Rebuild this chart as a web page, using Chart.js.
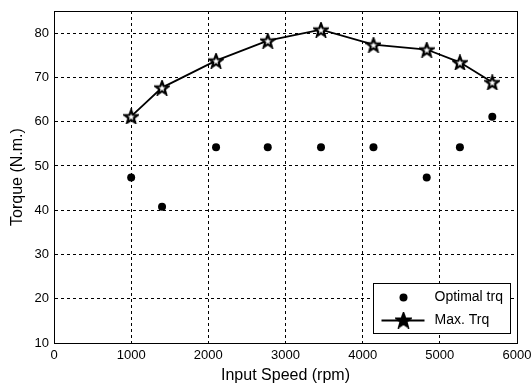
<!DOCTYPE html>
<html>
<head>
<meta charset="UTF-8">
<title>Torque vs Input Speed</title>
<script src="https://cdn.jsdelivr.net/npm/chart.js"></script>
<style>
  html, body { margin: 0; padding: 0; background: #fff; }
  #box { width: 532px; height: 385px; }
</style>
</head>
<body>
<div id="box"><canvas id="grafico"></canvas></div>
<script>
// dados
const velocidade = [1000, 1400, 2100, 2770, 3460, 4140, 4830, 5260, 5680];
const torqueOtimo = [47.4, 40.8, 54.2, 54.2, 54.2, 54.2, 47.4, 54.2, 61.1];
const torqueMax = [61.2, 67.7, 73.8, 78.3, 80.8, 77.4, 76.3, 73.4, 68.9];
const yTicks = [10, 20, 30, 40, 50, 60, 70, 80];
const xTicks = [0, 1000, 2000, 3000, 4000, 5000, 6000];

const fonte = 'Arial, "Liberation Sans", sans-serif';

// estrela de 5 pontas (pentagrama) como pointStyle
function fazEstrela(tam, preenche) {
  const c = document.createElement('canvas');
  c.width = tam; c.height = tam;
  const g = c.getContext('2d');
  const cx = tam / 2, cy = tam / 2 + 0.8;
  const rOut = tam / 2 - 1.2, rIn = rOut * 0.42;
  g.beginPath();
  for (let i = 0; i < 10; i++) {
    const r = i % 2 === 0 ? rOut : rIn;
    const a = -Math.PI / 2 + i * Math.PI / 5;
    const px = cx + r * Math.cos(a), py = cy + r * Math.sin(a);
    if (i === 0) g.moveTo(px, py); else g.lineTo(px, py);
  }
  g.closePath();
  g.lineJoin = 'miter';
  g.lineWidth = 2.2;
  g.strokeStyle = '#000';
  if (preenche) { g.fillStyle = '#000'; g.fill(); }
  else { g.fillStyle = '#fff'; g.fill(); }
  g.stroke();
  return c;
}
const estrela = fazEstrela(16, false);
const estrelaLegenda = fazEstrela(17, true);

const pts = (xs, ys) => xs.map((x, i) => ({ x: x, y: ys[i] }));

// moldura completa + legenda estilo matlab
const molduraPlugin = {
  id: 'moldura',
  afterDraw(chart) {
    const ctx = chart.ctx;
    const a = chart.chartArea;
    ctx.save();
    ctx.strokeStyle = '#000';
    ctx.lineWidth = 1;
    ctx.strokeRect(Math.round(a.left) + 0.5, Math.round(a.top) + 0.5,
      Math.round(a.right - a.left), Math.round(a.bottom - a.top));

    // legenda
    const w = 137, h = 50;
    const lx = Math.round(a.right - 7 - w) + 0.5;
    const ly = Math.round(a.bottom - 10 - h) + 0.5;
    ctx.fillStyle = '#fff';
    ctx.fillRect(lx, ly, w, h);
    ctx.strokeRect(lx, ly, w, h);

    const ds = chart.data.datasets;
    ctx.font = '14px ' + fonte;
    ctx.fillStyle = '#000';
    ctx.textBaseline = 'middle';
    ctx.textAlign = 'left';
    const y1 = ly + 14, y2 = ly + 37;
    // linha 1: pontos
    ctx.beginPath();
    ctx.arc(lx + 30, y1, 4, 0, Math.PI * 2);
    ctx.fill();
    ctx.fillText(ds[0].label, lx + 61, y1);
    // linha 2: linha + estrela
    ctx.beginPath();
    ctx.lineWidth = 1.8;
    ctx.moveTo(lx + 8, y2);
    ctx.lineTo(lx + 51, y2);
    ctx.stroke();
    ctx.drawImage(estrelaLegenda, lx + 30 - 8.5, y2 - 9);
    ctx.fillText(ds[1].label, lx + 61, y2);
    ctx.restore();
  }
};

const ctx = document.getElementById('grafico').getContext('2d');
new Chart(ctx, {
  type: 'scatter',
  data: {
    datasets: [
      {
        label: 'Optimal trq',
        data: pts(velocidade, torqueOtimo),
        pointStyle: 'circle',
        pointRadius: 4,
        backgroundColor: '#000',
        borderColor: '#000',
        borderWidth: 0,
        showLine: false
      },
      {
        label: 'Max. Trq',
        data: pts(velocidade, torqueMax),
        pointStyle: estrela,
        pointRadius: 8,
        borderColor: '#000',
        backgroundColor: '#000',
        borderWidth: 1.8,
        showLine: true,
        tension: 0
      }
    ]
  },
  options: {
    responsive: true,
    maintainAspectRatio: false,
    animation: false,
    layout: { padding: { top: 11, right: 15, left: 0, bottom: 0 } },
    plugins: {
      legend: { display: false },
      tooltip: { enabled: false }
    },
    scales: {
      x: {
        type: 'linear',
        min: 0,
        max: 6000,
        afterBuildTicks: s => { s.ticks = xTicks.map(v => ({ value: v })); },
        afterFit: s => { s.height = 42; s.paddingLeft = 0; s.paddingRight = 0; },
        ticks: {
          color: '#000',
          font: { family: fonte, size: 13 },
          padding: 5,
          maxRotation: 0,
          callback: v => String(v)
        },
        grid: {
          color: '#000',
          lineWidth: 1,
          drawTicks: false,
          tickLength: 0
        },
        border: { display: true, color: '#000', dash: [3, 3] },
        title: {
          display: true,
          text: 'Input Speed (rpm)',
          color: '#000',
          font: { family: fonte, size: 16 },
          padding: { top: 0, bottom: 0 }
        }
      },
      y: {
        type: 'linear',
        min: 10,
        max: 85,
        afterBuildTicks: s => { s.ticks = yTicks.map(v => ({ value: v })); },
        afterFit: s => { s.width = 54; s.paddingTop = 0; s.paddingBottom = 0; },
        ticks: {
          color: '#000',
          font: { family: fonte, size: 13 },
          padding: 5,
          callback: v => String(v)
        },
        grid: {
          color: '#000',
          lineWidth: 1,
          drawTicks: false,
          tickLength: 0
        },
        border: { display: true, color: '#000', dash: [3, 3] },
        title: {
          display: true,
          text: 'Torque (N.m.)',
          color: '#000',
          font: { family: fonte, size: 16 },
          padding: { top: 8, bottom: 0 }
        }
      }
    }
  },
  plugins: [molduraPlugin]
});
</script>
</body>
</html>
